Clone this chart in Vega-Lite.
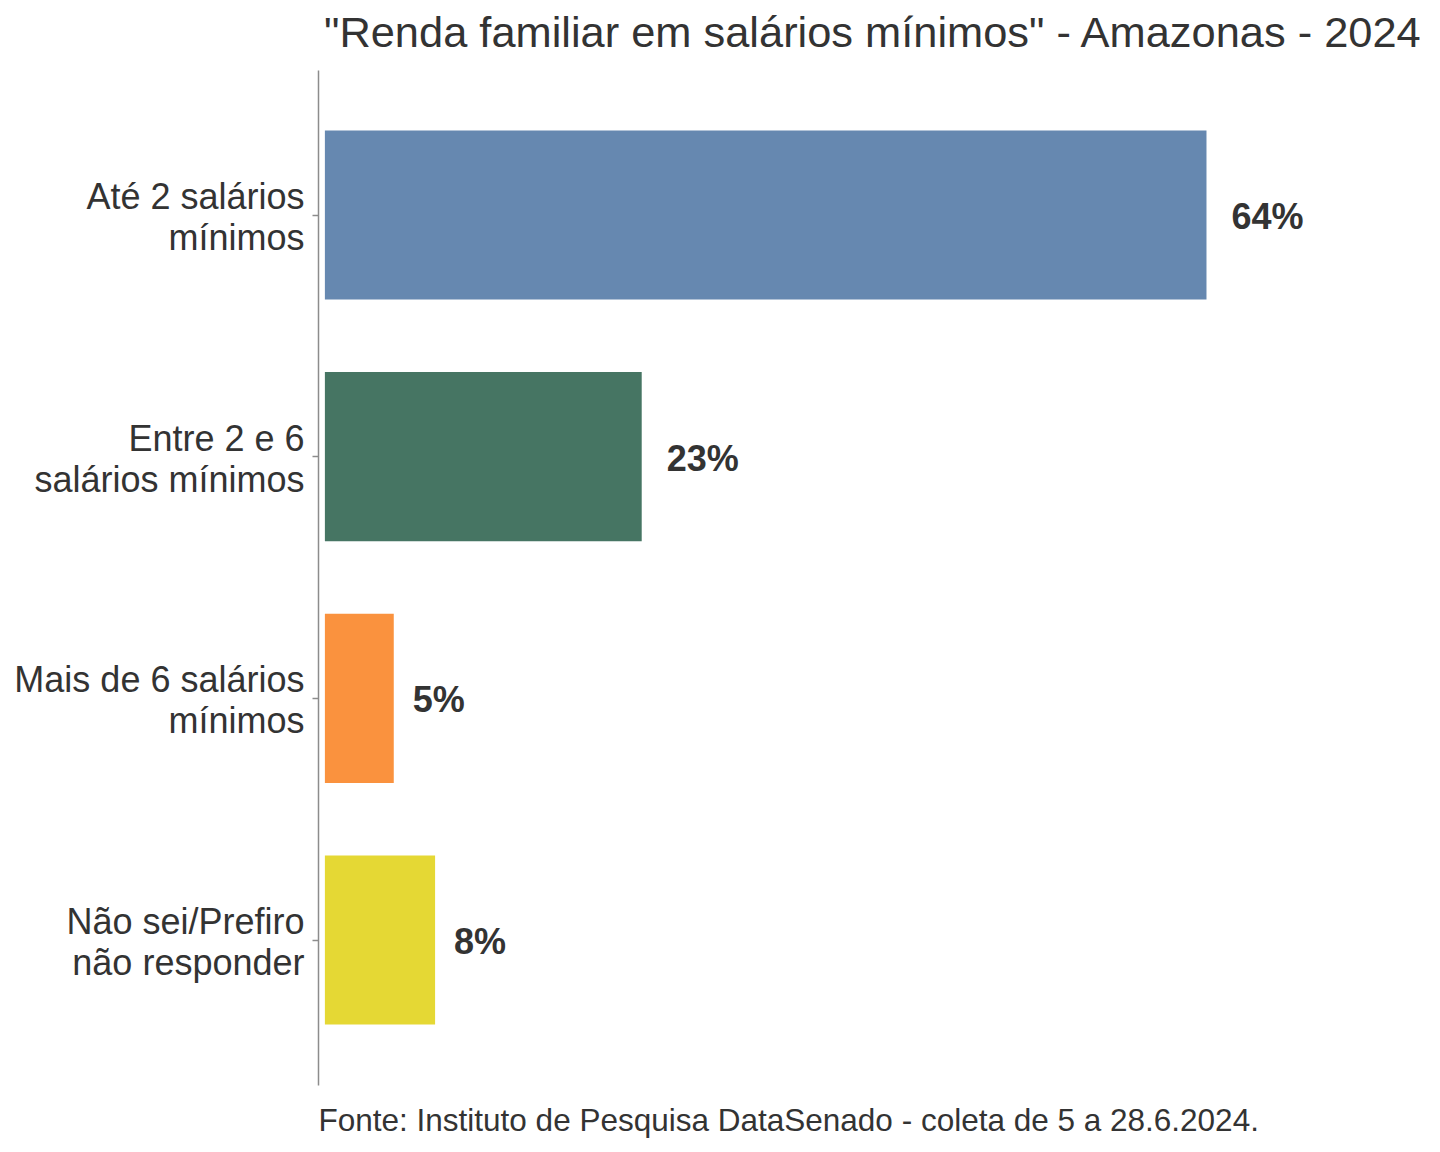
{
  "$schema": "https://vega.github.io/schema/vega-lite/v6.json",
  "autosize": {"type": "none"},
  "width": 1102,
  "height": 1015,
  "padding": {"left": 318, "top": 70, "right": 20, "bottom": 67},
  "background": "white",
  "config": {
    "font": "Liberation Sans",
    "view": {"stroke": null}
  },
  "title": {
    "text": "\"Renda familiar em salários mínimos\" - Amazonas - 2024",
    "anchor": "start",
    "frame": "group",
    "fontSize": 43.4,
    "fontWeight": "normal",
    "color": "#333333",
    "offset": 14,
    "dx": 6
  },
  "data": {
    "values": [
      {"faixa": "Até 2 salários|mínimos", "pct": 64, "rotulo": "64%"},
      {"faixa": "Entre 2 e 6|salários mínimos", "pct": 23, "rotulo": "23%"},
      {"faixa": "Mais de 6 salários|mínimos", "pct": 5, "rotulo": "5%"},
      {"faixa": "Não sei/Prefiro|não responder", "pct": 8, "rotulo": "8%"}
    ]
  },
  "encoding": {
    "y": {
      "field": "faixa",
      "type": "nominal",
      "sort": null,
      "scale": {"paddingInner": 0.3, "paddingOuter": 0.25},
      "axis": {
        "title": null,
        "labelExpr": "split(datum.label, '|')",
        "labelFontSize": 36,
        "labelColor": "#333333",
        "labelLineHeight": 41,
        "labelOffset": -17,
        "labelPadding": 8,
        "labelLimit": 400,
        "domainColor": "#8c8c8c",
        "domainWidth": 1.5,
        "tickColor": "#8c8c8c",
        "tickSize": 6,
        "tickWidth": 1.5
      }
    },
    "x": {
      "field": "pct",
      "type": "quantitative",
      "scale": {"domain": [-0.5, 79.5], "nice": false, "zero": false},
      "axis": {
        "title": "Fonte: Instituto de Pesquisa DataSenado - coleta de 5 a 28.6.2024.",
        "titleFontSize": 31.5,
        "titleFontWeight": "normal",
        "titleColor": "#333333",
        "titleAnchor": "start",
        "titleAlign": "left",
        "titlePadding": 20,
        "domain": false,
        "ticks": false,
        "labels": false,
        "grid": false
      }
    }
  },
  "layer": [
    {
      "mark": {"type": "bar"},
      "encoding": {
        "x": {"field": "pct", "type": "quantitative"},
        "x2": {"datum": 0},
        "color": {
          "field": "faixa",
          "type": "nominal",
          "sort": null,
          "scale": {
            "domain": ["Até 2 salários|mínimos", "Entre 2 e 6|salários mínimos", "Mais de 6 salários|mínimos", "Não sei/Prefiro|não responder"],
            "range": ["#6688B0", "#467563", "#FA923E", "#E5D834"]
          },
          "legend": null
        }
      }
    },
    {
      "transform": [{"filter": "length(datum.rotulo) > 2"}],
      "mark": {
        "type": "text",
        "align": "left",
        "baseline": "middle",
        "dx": 25,
        "dy": 3,
        "fontSize": 36,
        "fontWeight": "bold",
        "color": "#333333"
      },
      "encoding": {
        "text": {"field": "rotulo"}
      }
    },
    {
      "transform": [{"filter": "length(datum.rotulo) <= 2"}],
      "mark": {
        "type": "text",
        "align": "left",
        "baseline": "middle",
        "dx": 19,
        "dy": 3,
        "fontSize": 36,
        "fontWeight": "bold",
        "color": "#333333"
      },
      "encoding": {
        "text": {"field": "rotulo"}
      }
    }
  ]
}
